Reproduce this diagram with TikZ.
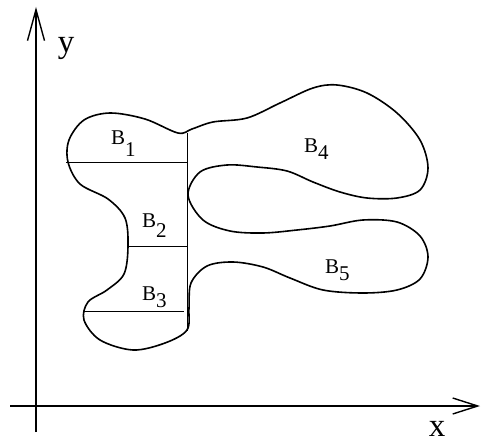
\documentclass[tikz,border=0pt]{standalone}
\usepackage{fontspec}
\setmainfont{Liberation Serif}
\usetikzlibrary{arrows.meta}
\tikzset{
  axis/.style={line width=1.4pt},
  outline/.style={line width=1.6pt, line join=round},
  cut/.style={line width=0.9pt},
  axlabel/.style={inner sep=0pt, anchor=base, font=\fontsize{33}{40}\selectfont},
  blabel/.style={inner sep=0pt, anchor=base west, font=\fontsize{21}{25}\selectfont},
}
\newcommand{\sublab}[2]{B\raisebox{-#2pt}{#1}}
\begin{document}
\begin{tikzpicture}[x=1pt,y=-1pt]
\useasboundingbox (0,0) rectangle (481,446);
% axes
\coordinate (ybot) at (36,432);
\coordinate (ytop) at (36,7);
\coordinate (xleft) at (10,406);
\coordinate (xright) at (480,406);
\draw[axis,-{Straight Barb[length=31pt,width=17pt]}] (ybot) -- (ytop);
\draw[axis,-{Straight Barb[length=25pt,width=16pt]}] (xleft) -- (xright);
\node[axlabel] (ylab) at (66,53) {y};
\node[axlabel] (xlab) at (437,436) {x};
% outline
\draw[outline] plot[smooth cycle, tension=0.55] coordinates {
(178,133) (145,119) (110,113) (84,120) (69,140) (68,162) (80,184) (108,199)
(125,218) (128,246) (124,274) (107,290) (88,302) (84,320) (100,340) (133,350)
(165,343) (187,330) (189,308) (191,283) (207,266) (233,262) (263,267)
(290,278) (323,290) (363,293) (397,290) (420,279) (428,257) (420,236)
(397,222) (363,220) (330,226) (297,230) (263,233) (230,231) (203,220)
(188,195) (200,172) (227,165) (257,167) (287,171) (313,182) (340,192)
(367,198) (397,198) (420,190) (428,168) (420,140) (397,113) (367,93)
(337,85) (313,88) (280,103) (247,118) (213,122) (192,129)};
% cutting lines
\coordinate (vtop) at (187,133);
\coordinate (vbot) at (187,331);
\coordinate (l1a) at (66,162);
\coordinate (l1b) at (187,162);
\coordinate (l2a) at (128,246);
\coordinate (l2b) at (187,246);
\coordinate (l3a) at (84,311);
\coordinate (l3b) at (184,311);
\draw[cut] (vtop) -- (vbot);
\draw[cut] (l1a) -- (l1b);
\draw[cut] (l2a) -- (l2b);
\draw[cut] (l3a) -- (l3b);
% labels
\node[blabel] (b1) at (111,145) {\sublab{1}{12}};
\node[blabel] (b2) at (142,227) {\sublab{2}{10}};
\node[blabel] (b3) at (142,300) {\sublab{3}{7}};
\node[blabel] (b4) at (304,153) {\sublab{4}{7}};
\node[blabel] (b5) at (325,273) {\sublab{5}{7}};
\end{tikzpicture}
\end{document}
